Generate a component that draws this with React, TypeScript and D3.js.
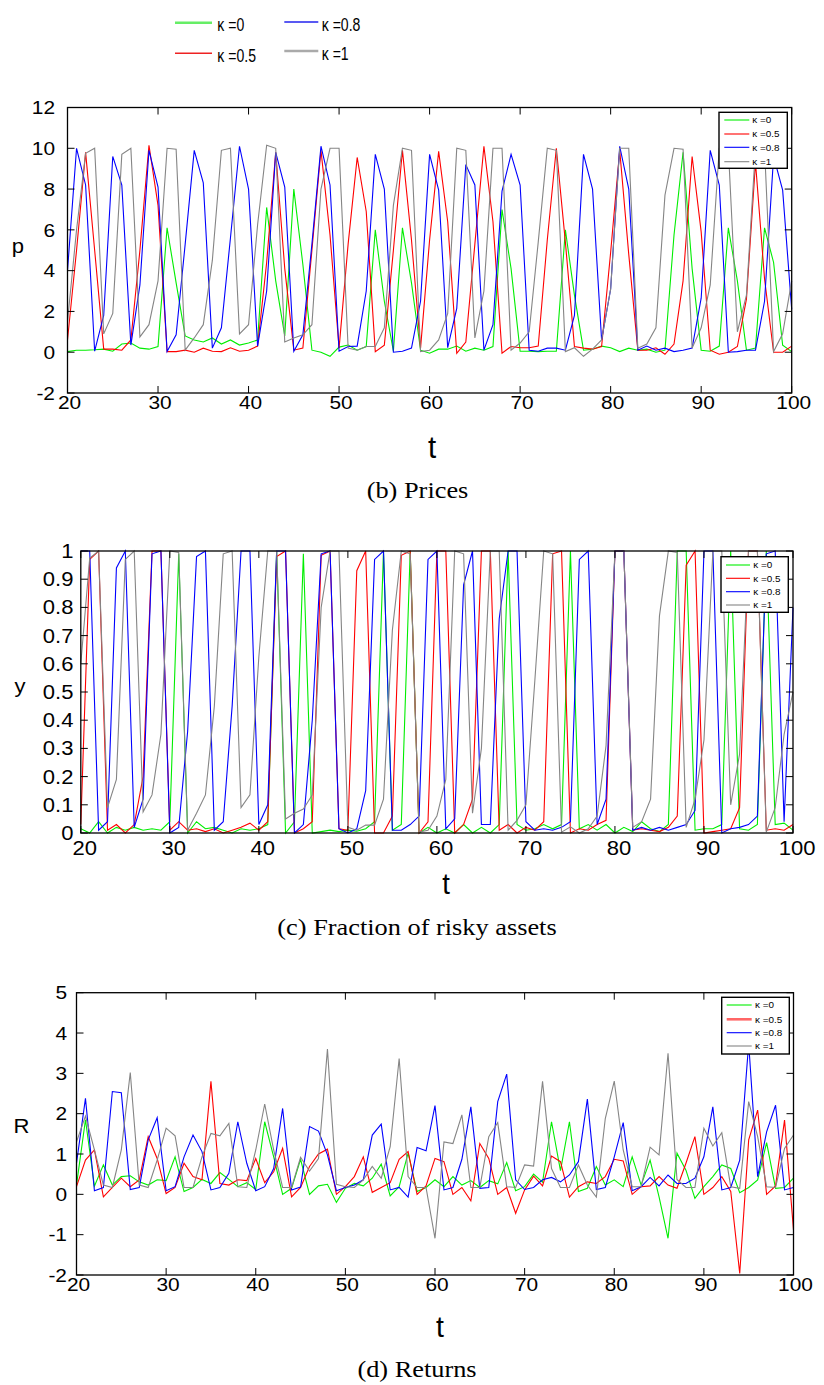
import React from 'react';
import * as d3 from 'd3';

// ---------- DATA ----------
const tValues: number[] = d3.range(20, 101);
const xTicks = [20, 30, 40, 50, 60, 70, 80, 90, 100];

const kappaLabels = ['κ =0', 'κ =0.5', 'κ =0.8', 'κ =1'];

// (b) Prices, t = 20..100
const priceK0 = [
  0.03, 0.1, 0.1, 0.12, 0.15, 0.05, 0.4, 0.45, 0.2, 0.15,
  0.28, 6.1, 3.4, 0.8, 0.6, 0.5, 0.7, 0.4, 0.6, 0.35,
  0.45, 0.6, 7.1, 3.5, 0.8, 8.0, 4.3, 0.1, 0.0, -0.2,
  0.25, 0.35, 0.1, 0.28, 6.0, 2.5, 0.05, 6.1, 3.4, 0.1,
  -0.05, 0.15, 0.15, 0.3, 0.05, 0.2, 0.1, 0.28, 7.0, 4.1,
  0.05, 0.05, 0.03, 0.05, 0.05, 6.0, 2.8, 0.1, 0.15, 0.3,
  0.22, 0.03, 0.2, 0.1, 0.15, 0.0, 0.1, 5.75, 9.8, 4.1,
  0.1, 0.05, 0.3, 6.1, 3.5, 0.1, 0.2, 6.1, 4.4, 0.35,
  0.03,
];
const priceK05 = [
  0.6, 5.0, 9.8, 5.0, 0.15, 0.15, 0.1, 0.6, 5.0, 10.15,
  7.2, 0.03, 0.03, 0.1, 0.0, 0.2, 0.05, 0.03, 0.22, 0.05,
  0.1, 0.3, 4.4, 9.8, 4.1, 0.1, 0.2, 5.0, 9.9, 5.75,
  0.2, 5.3, 9.55, 6.9, 0.03, 0.35, 5.0, 9.9, 5.5, 0.2,
  5.5, 9.85, 6.4, -0.05, 0.5, 5.3, 10.1, 6.4, -0.05, 0.28,
  0.22, 0.22, 0.3, 5.5, 10.0, 5.4, 0.28, 0.2, 0.15, 0.28,
  4.9, 9.9, 4.8, 0.1, 0.1, 0.22, -0.1, 0.4, 3.5, 9.6,
  5.9, 0.1, -0.1, 0.0, 0.28, 2.6, 9.3, 3.6, 0.0, 0.0,
  0.3,
];
const priceK08 = [
  4.0, 10.0, 8.2, 0.05, 1.8, 9.6, 8.2, 0.35, 3.3, 9.9,
  8.1, 0.03, 0.85, 5.3, 9.9, 8.3, 0.2, 1.2, 5.6, 10.1,
  8.0, 0.3, 3.0, 9.8, 8.1, 0.05, 0.85, 5.3, 10.1, 8.2,
  0.05, 0.28, 0.3, 3.0, 9.7, 8.0, 0.0, 0.05, 0.2, 2.5,
  9.7, 7.95, 0.22, 2.15, 9.2, 8.2, 0.1, 1.35, 7.9, 9.7,
  8.2, 0.1, 0.05, 0.2, 0.2, 0.1, 1.8, 9.7, 8.0, 0.6,
  3.1, 10.1, 8.0, 0.1, 0.3, 0.1, 0.2, 0.03, 0.1, 0.2,
  2.65, 9.9, 8.2, 0.0, 0.03, 0.1, 0.1, 2.5, 9.6, 7.95,
  2.1,
];
const priceK1 = [
  1.5, 6.0, 9.75, 10.0, 0.9, 1.9, 9.7, 10.0, 0.75, 1.35,
  3.5, 10.0, 9.95, 0.1, 0.7, 1.35, 4.5, 9.9, 10.0, 0.9,
  1.35, 6.25, 10.15, 10.0, 0.5, 0.7, 0.85, 1.35, 8.0, 10.0,
  10.0, 0.2, 0.1, 0.28, 0.28, 1.2, 7.2, 10.0, 9.9, 0.03,
  0.1, 0.6, 1.9, 10.0, 9.9, 0.7, 3.0, 10.0, 10.0, 0.1,
  0.45, 1.0, 5.4, 10.0, 9.9, 0.03, 0.22, -0.2, 0.15, 0.6,
  3.1, 10.0, 10.0, 0.2, 0.4, 1.2, 7.7, 10.0, 9.95, 0.2,
  1.2, 3.3, 10.0, 10.0, 1.0, 2.8, 10.0, 10.0, 0.03, 0.9,
  3.5,
];

// (c) Fraction of risky assets
const fracK0 = [
  0.015, 0.0, 0.04, 0.0, 0.02, 0.01, 0.02, 0.01, 0.015, 0.01,
  0.04, 0.99, 0.0, 0.04, 0.015, 0.02, 0.01, 0.0, 0.015, 0.01,
  0.015, 0.03, 1.0, 0.0, 0.04, 0.99, 0.0, 0.005, 0.01, 0.005,
  0.01, 0.006, 0.015, 0.04, 1.0, 0.01, 0.03, 1.0, 0.0, 0.02,
  0.0, 0.015, 0.0, 0.03, 0.0, 0.02, 0.0, 0.03, 1.0, 0.03,
  0.01, 0.015, 0.03, 0.015, 0.03, 1.0, 0.015, 0.03, 0.01, 0.03,
  0.0, 0.02, 0.005, 0.04, 0.015, 0.005, 0.03, 1.0, 1.0, 0.01,
  0.015, 0.015, 0.03, 1.0, 0.015, 0.01, 0.03, 1.0, 0.03, 0.035,
  0.01,
];
const fracK05 = [
  0.03, 0.97, 1.0, 0.01, 0.03, 0.0, 0.03, 0.2, 1.0, 1.0,
  0.01, 0.04, 0.01, 0.015, 0.005, 0.015, 0.0, 0.01, 0.02, 0.035,
  0.01, 0.04, 0.98, 1.0, 0.0, 0.015, 0.04, 0.985, 1.0, 0.015,
  0.01, 0.93, 1.0, 0.0, 0.0, 0.06, 0.985, 1.0, 0.0, 0.04,
  1.0, 1.0, 0.0, 0.03, 0.12, 1.0, 1.0, 0.01, 0.03, 0.0,
  0.02, 0.01, 0.04, 0.99, 1.0, 0.0, 0.015, 0.01, 0.03, 0.045,
  1.0, 1.0, 0.01, 0.015, 0.01, 0.005, 0.02, 0.06, 0.95, 1.0,
  0.0, 0.005, 0.01, 0.015, 0.09, 1.0, 1.0, 0.01, 0.015, 0.01,
  0.03,
];
const fracK08 = [
  1.0, 1.0, 0.01, 0.04, 0.94, 1.0, 0.02, 0.12, 0.99, 1.0,
  0.0, 0.02, 0.36, 0.98, 1.0, 0.01, 0.04, 0.45, 1.0, 1.0,
  0.03, 0.1, 1.0, 1.0, 0.0, 0.03, 0.4, 0.99, 1.0, 0.015,
  0.0, 0.015, 0.15, 0.97, 1.0, 0.01, 0.01, 0.03, 0.06, 0.97,
  1.0, 0.015, 0.05, 0.88, 1.0, 0.03, 0.03, 0.76, 1.0, 1.0,
  0.04, 0.01, 0.015, 0.01, 0.02, 0.04, 0.97, 1.0, 0.03, 0.12,
  1.0, 1.0, 0.01, 0.02, 0.01, 0.02, 0.01, 0.02, 0.03, 0.08,
  1.0, 1.0, 0.0, 0.015, 0.02, 0.03, 0.06, 0.99, 1.0, 0.04,
  0.8,
];
const fracK1 = [
  0.6, 0.975, 1.0, 0.09, 0.19, 0.97, 1.0, 0.075, 0.135, 0.35,
  1.0, 0.995, 0.01, 0.07, 0.135, 0.45, 0.99, 1.0, 0.09, 0.135,
  0.625, 1.0, 1.0, 0.05, 0.07, 0.085, 0.135, 0.8, 1.0, 1.0,
  0.02, 0.01, 0.028, 0.028, 0.12, 0.72, 1.0, 0.99, 0.003, 0.01,
  0.06, 0.19, 1.0, 0.99, 0.07, 0.3, 1.0, 1.0, 0.01, 0.045,
  0.1, 0.54, 1.0, 0.99, 0.003, 0.022, 0.0, 0.015, 0.06, 0.31,
  1.0, 1.0, 0.02, 0.04, 0.12, 0.77, 1.0, 0.995, 0.02, 0.12,
  0.33, 1.0, 1.0, 0.1, 0.28, 1.0, 1.0, 0.003, 0.09, 0.35,
  0.5,
];

// (d) Returns
const retK0 = [
  0.23, 1.85, 0.2, 0.73, 0.23, 0.44, 0.46, 0.31, 0.23, 0.36,
  0.34, 0.93, 0.07, 0.17, 0.37, 0.27, 0.54, 0.37, 0.19, 0.29,
  0.12, 1.8, 0.93, 0.0, 0.15, 0.87, 0.0, 0.21, 0.25, -0.2,
  0.15, 0.27, 0.21, 0.4, 0.75, -0.04, 0.19, 1.02, 0.07, 0.17,
  0.36, 0.19, 0.44, 0.23, 0.34, 0.17, 0.34, 0.26, 0.79, 0.09,
  0.19, 0.5, 0.3, 1.8, 0.59, 1.8, 0.07, 0.15, 0.69, 0.23,
  0.36, 0.19, 0.93, 0.23, 0.85, -0.06, -1.09, 1.02, 0.6, -0.1,
  0.19, 0.44, 0.73, 0.64, 0.04, 0.17, 0.36, 1.28, 0.15, 0.17,
  0.4,
];
const retK05 = [
  0.19, 0.85, 1.1, -0.06, 0.17, 0.4, 0.19, 0.36, 1.43, 0.89,
  0.02, 0.17, 0.77, 0.44, 0.36, 2.8, 0.27, 0.23, 0.36, 0.34,
  0.89, 0.29, 0.56, 1.14, -0.06, 0.17, 0.69, 1.0, 1.12, 0.0,
  0.19, 0.44, 0.93, 0.05, 0.17, 0.29, 0.87, 1.06, 0.0, 0.21,
  0.89, 0.81, 0.0, 0.17, -0.16, 1.26, 0.89, 0.0, 0.17, -0.47,
  0.11, 0.45, 0.21, 0.95, 0.81, -0.07, 0.19, 0.31, 0.27, 0.44,
  0.87, 0.83, 0.0, 0.19, 0.21, 0.44, 0.23, 0.15, 0.77, 1.43,
  0.0, 0.17, 0.44, 0.07, -1.96, 1.35, 2.09, 0.0, 0.21, 1.84,
  -0.88,
];
const retK08 = [
  0.77, 2.38, 0.09, 0.17, 2.55, 2.52, 0.12, 0.17, 1.35, 1.9,
  0.09, 0.19, 0.93, 1.47, 1.06, 0.11, 0.17, 0.52, 1.8, 0.77,
  0.09, 0.19, 0.64, 2.13, 0.11, 0.18, 1.68, 1.57, 0.98, 0.09,
  0.17, 0.23, 0.36, 1.47, 1.74, 0.11, 0.17, -0.07, 1.16, 1.08,
  2.2, 0.11, 0.17, 0.87, 2.17, 0.15, 0.17, 2.3, 2.98, 0.36,
  0.12, 0.17, 0.36, 0.42, 0.31, 0.48, 0.81, 2.36, 0.12, 0.17,
  0.93, 1.78, 0.09, 0.19, 0.42, 0.21, 0.48, 0.27, 0.27, 0.4,
  0.93, 2.17, 0.11, 0.17, 0.85, 3.74, 0.44, 1.55, 2.21, 0.11,
  0.17,
];
const retK1 = [
  1.3, 1.94, 1.1, 0.23, 0.17, 1.1, 3.02, 0.23, 0.17, 0.85,
  1.64, 1.45, 0.17, 0.17, 0.93, 1.51, 1.45, 1.76, 0.19, 0.17,
  1.1, 2.24, 1.1, 0.17, 0.17, 0.92, 0.58, 0.89, 3.6, 0.25,
  0.19, 0.17, 0.36, 0.69, 0.4, 1.18, 3.37, 0.44, 0.17, 0.17,
  -1.09, 1.3, 1.26, 1.97, 0.17, 0.17, 1.43, 1.78, 0.19, 0.17,
  0.73, 0.7, 2.8, 0.64, 0.17, 0.17, 0.73, 0.23, -0.07, 1.88,
  2.81, 1.1, 0.19, 0.19, 1.17, 0.98, 3.5, 0.37, 0.17, 0.17,
  1.64, 1.2, 1.53, 0.19, 0.15, 2.3, 1.43, 0.19, 0.17, 1.14,
  1.47,
];

const priceTicks = [-2, 0, 2, 4, 6, 8, 10, 12];
const fracTicks = [0, 0.1, 0.2, 0.3, 0.4, 0.5, 0.6, 0.7, 0.8, 0.9, 1];
const fracTickLabels = ['0', '0.1', '0.2', '0.3', '0.4', '0.5', '0.6', '0.7', '0.8', '0.9', '1'];
const retTicks = [-2, -1, 0, 1, 2, 3, 4, 5];

// ---------- STYLE ----------
const COLORS = ['#00ee00', '#ff0000', '#0000ff', '#858585'];
const SANS = '"Liberation Sans", Arial, Helvetica, sans-serif';
const SERIF = '"Liberation Serif", "Times New Roman", serif';

function Txt(props: {
  x: number; y: number; size: number; anchor?: string; sx?: number;
  family?: string; children: React.ReactNode;
}) {
  const { x, y, size, anchor = 'middle', sx = 1, family = SANS, children } = props;
  return (
    <text
      transform={`translate(${x},${y}) scale(${sx},1)`}
      fontSize={size}
      textAnchor={anchor as any}
      fontFamily={family}
      fill="#000"
    >
      {children}
    </text>
  );
}

type LegendCfg = {
  x0: number; y0: number; x1: number; y1: number;
  rows: number[]; lx0: number; lx1: number; tx: number;
  widths: number[]; colors: string[];
};

type PanelCfg = {
  left: number; right: number; top: number; bottom: number;
  yDomain: [number, number];
  yTicks: number[]; yTickLabels: string[];
  yLabelRight: number; tickFont: number; tickSx: number;
  xLabelBaseline: number; xLabelDx: number;
  tX: number; tY: number; tFont: number;
  ylab: string; ylabX: number; ylabY: number;
  caption: string; capX: number; capY: number;
  series: number[][];
  legend: LegendCfg;
};

function Panel({ cfg }: { cfg: PanelCfg }) {
  const x = d3.scaleLinear().domain([20, 100]).range([cfg.left, cfg.right]);
  const y = d3.scaleLinear().domain(cfg.yDomain).range([cfg.bottom, cfg.top]);
  const line = d3
    .line<number>()
    .x((_, i) => x(tValues[i]))
    .y((d) => y(d));
  const tl = 7;
  const L = cfg.legend;
  return (
    <g>
      {cfg.series.map((s, i) => (
        <path key={i} d={line(s) || ''} fill="none" stroke={COLORS[i]} strokeWidth={1.1} strokeLinejoin="miter" />
      ))}
      {/* frame */}
      <rect x={cfg.left} y={cfg.top} width={cfg.right - cfg.left} height={cfg.bottom - cfg.top}
        fill="none" stroke="#000" strokeWidth={1.3} />
      {/* x ticks */}
      {xTicks.map((t) => (
        <g key={'xt' + t}>
          <line x1={x(t)} x2={x(t)} y1={cfg.bottom} y2={cfg.bottom - tl} stroke="#000" strokeWidth={1} />
          <line x1={x(t)} x2={x(t)} y1={cfg.top} y2={cfg.top + tl} stroke="#000" strokeWidth={1} />
          <Txt x={x(t) + cfg.xLabelDx} y={cfg.xLabelBaseline} size={cfg.tickFont} sx={cfg.tickSx}>{String(t)}</Txt>
        </g>
      ))}
      {/* y ticks */}
      {cfg.yTicks.map((v, i) => (
        <g key={'yt' + i}>
          <line x1={cfg.left} x2={cfg.left + tl} y1={y(v)} y2={y(v)} stroke="#000" strokeWidth={1} />
          <line x1={cfg.right} x2={cfg.right - tl} y1={y(v)} y2={y(v)} stroke="#000" strokeWidth={1} />
          <Txt x={cfg.yLabelRight} y={y(v) + cfg.tickFont * 0.36} size={cfg.tickFont} sx={cfg.tickSx} anchor="end">
            {cfg.yTickLabels[i]}
          </Txt>
        </g>
      ))}
      {/* axis titles */}
      <Txt x={cfg.ylabX} y={cfg.ylabY + 7} size={21} sx={1.05}>{cfg.ylab}</Txt>
      <Txt x={cfg.tX} y={cfg.tY} size={cfg.tFont} sx={0.95}>t</Txt>
      <Txt x={cfg.capX} y={cfg.capY} size={23} sx={1.145} family={SERIF}>{cfg.caption}</Txt>
      {/* inner legend */}
      <rect x={L.x0} y={L.y0} width={L.x1 - L.x0} height={L.y1 - L.y0} fill="#fff" stroke="#000" strokeWidth={1.4} />
      {kappaLabels.map((lab, i) => (
        <g key={'lg' + i}>
          <line x1={L.lx0} x2={L.lx1} y1={L.rows[i]} y2={L.rows[i]} stroke={L.colors[i]} strokeWidth={L.widths[i]} />
          <Txt x={L.tx} y={L.rows[i] + 3.2} size={9} sx={1.1} anchor="start">{lab}</Txt>
        </g>
      ))}
    </g>
  );
}

const panelB: PanelCfg = {
  left: 67.5, right: 791.7, top: 107.5, bottom: 393,
  yDomain: [-2, 12], yTicks: priceTicks, yTickLabels: priceTicks.map(String),
  yLabelRight: 55, tickFont: 18.5, tickSx: 1.13,
  xLabelBaseline: 408.5, xLabelDx: 2,
  tX: 432, tY: 458, tFont: 31,
  ylab: 'p', ylabX: 18, ylabY: 246,
  caption: '(b) Prices', capX: 417.5, capY: 498,
  series: [priceK0, priceK05, priceK08, priceK1],
  legend: {
    x0: 719, y0: 112.3, x1: 787.3, y1: 168.3,
    rows: [120, 134, 147.3, 161.7], lx0: 724.3, lx1: 749.3, tx: 752.3,
    widths: [1.1, 1.1, 1.1, 1.1], colors: COLORS,
  },
};

const panelC: PanelCfg = {
  left: 80.8, right: 793, top: 551, bottom: 833,
  yDomain: [0, 1], yTicks: fracTicks, yTickLabels: fracTickLabels,
  yLabelRight: 73.5, tickFont: 19.5, tickSx: 1.13,
  xLabelBaseline: 855, xLabelDx: 4,
  tX: 446, tY: 894, tFont: 29,
  ylab: 'y', ylabX: 20, ylabY: 686,
  caption: '(c) Fraction of risky assets', capX: 417, capY: 935,
  series: [fracK0, fracK05, fracK08, fracK1],
  legend: {
    x0: 721, y0: 556.7, x1: 788.3, y1: 612.3,
    rows: [565, 578.3, 591.7, 605], lx0: 726, lx1: 750, tx: 753.3,
    widths: [1.1, 1.1, 1.1, 1.1], colors: COLORS,
  },
};

const panelD: PanelCfg = {
  left: 76.5, right: 793.5, top: 992.7, bottom: 1275,
  yDomain: [-2, 5], yTicks: retTicks, yTickLabels: retTicks.map(String),
  yLabelRight: 67, tickFont: 18.5, tickSx: 1.13,
  xLabelBaseline: 1290.5, xLabelDx: 2,
  tX: 440, tY: 1337, tFont: 30,
  ylab: 'R', ylabX: 21.5, ylabY: 1126,
  caption: '(d) Returns', capX: 417, capY: 1377,
  series: [retK0, retK05, retK08, retK1],
  legend: {
    x0: 721.7, y0: 997.3, x1: 789.3, y1: 1054,
    rows: [1005, 1019.3, 1032.7, 1046], lx0: 726.7, lx1: 751.7, tx: 755,
    widths: [1.1, 2.6, 1.1, 1.1], colors: [COLORS[0], '#ff6666', COLORS[2], COLORS[3]],
  },
};

function TopLegend() {
  const items = [
    { lab: kappaLabels[0], color: '#66ee66', w: 2.6, x0: 175, x1: 212, ly: 22.7, tx: 217.3, ty: 30.9 },
    { lab: kappaLabels[1], color: '#ee2222', w: 1.4, x0: 175, x1: 212, ly: 53.3, tx: 217.3, ty: 61.7 },
    { lab: kappaLabels[2], color: '#2222ee', w: 1.4, x0: 284.3, x1: 318.3, ly: 22, tx: 321.7, ty: 30.9 },
    { lab: kappaLabels[3], color: '#aaaaaa', w: 2.3, x0: 284.3, x1: 318.3, ly: 51, tx: 321.7, ty: 59.5 },
  ];
  return (
    <g>
      {items.map((it, i) => (
        <g key={i}>
          <line x1={it.x0} x2={it.x1} y1={it.ly} y2={it.ly} stroke={it.color} strokeWidth={it.w} />
          <Txt x={it.tx} y={it.ty} size={18.5} sx={0.76} anchor="start">{it.lab}</Txt>
        </g>
      ))}
    </g>
  );
}

export default function App() {
  return (
    <svg
      width={824}
      height={1385}
      viewBox="0 0 824 1385"
      style={{ position: 'absolute', left: 0, top: 0, display: 'block', background: '#fff' }}
    >
      <rect x={0} y={0} width={824} height={1385} fill="#fff" />
      <TopLegend />
      <Panel cfg={panelB} />
      <Panel cfg={panelC} />
      <Panel cfg={panelD} />
    </svg>
  );
}
